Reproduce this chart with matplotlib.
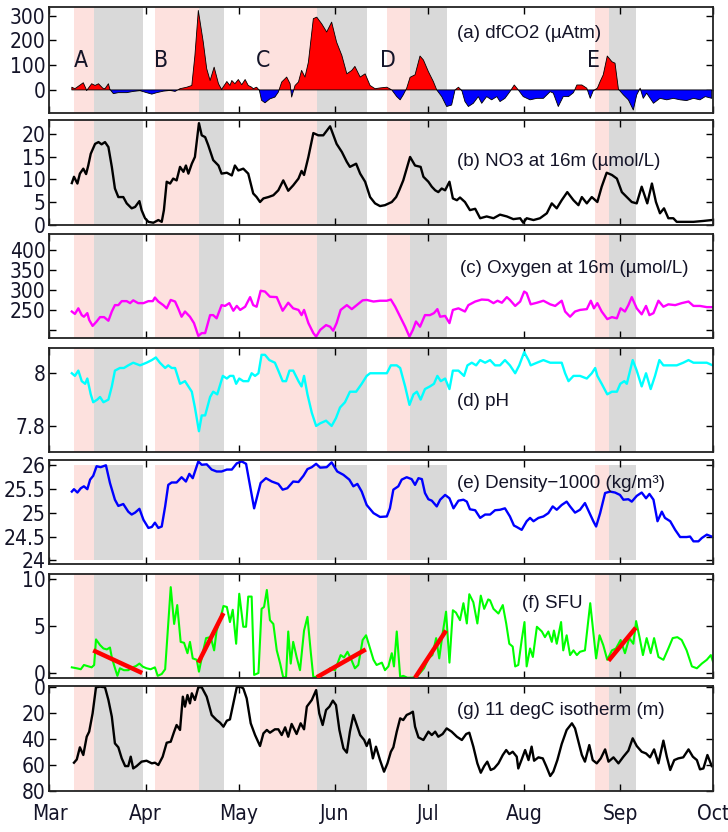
import matplotlib
matplotlib.use('Agg')
import matplotlib.pyplot as plt
from matplotlib import font_manager
import numpy as np

# ==========================================
# DATA (day since 1 March)
# ==========================================
months = ['Mar', 'Apr', 'May', 'Jun', 'Jul', 'Aug', 'Sep', 'Oct']
month_days = [0, 31, 61, 92, 122, 153, 184, 214]

pink_periods = [(7.9, 14.4), (34.0, 48.3), (67.9, 86.3), (109.0, 116.3), (176.0, 180.5)]
grey_periods = [(14.4, 30.3), (48.3, 56.3), (86.3, 102.3), (116.3, 128.3), (180.5, 189.2)]

event_labels = ['A', 'B', 'C', 'D', 'E']
event_days = [10.2, 36.0, 68.9, 109.2, 175.3]

# (a) dfCO2
co2_day = [7.2, 8.2, 10.9, 12.0, 13.6, 14.7, 15.8, 17.2, 17.9, 19.0, 19.5, 20.6, 22.2, 24.9, 27.0,
           29.2, 31.3, 33.0, 34.6, 36.7, 38.9, 40.5, 42.1, 44.3, 45.9, 46.9, 48.0, 49.6, 50.7, 51.8,
           53.1, 54.5, 55.5, 57.2, 58.2, 58.8, 59.8, 60.9, 62.0, 63.1, 64.1, 65.2, 65.7, 66.8, 67.7,
           68.4, 69.5, 71.1, 72.7, 73.8, 74.9, 76.5, 77.6, 78.1, 79.2, 80.3, 81.3, 82.4, 83.5, 85.1,
           86.2, 87.8, 89.4, 91.0, 92.6, 94.3, 95.9, 97.5, 98.5, 100.2, 101.8, 103.4, 105.0,
           106.6, 108.8, 110.4, 112.0, 113.1, 114.1, 115.2, 116.3, 117.9, 119.5, 120.6, 122.2, 123.8,
           124.9, 126.5, 128.1, 129.7, 130.8, 131.9, 133.0, 134.0, 135.1, 136.7, 138.3, 139.4, 141.0,
           142.6, 144.3, 145.3, 146.9, 148.5, 149.9, 151.2, 152.8, 155.0, 157.2, 159.3, 161.5, 162.5,
           164.1, 165.7, 167.4, 169.0, 170.1, 171.7, 173.3, 174.4, 175.4, 176.7, 177.6, 178.6, 179.9,
           181.4, 182.4, 183.5, 185.1, 186.7, 188.3, 189.4, 190.5, 191.5, 192.6, 194.8, 196.9, 199.1,
           201.2, 203.4, 205.5, 207.7, 209.8, 211.5, 213.6]
co2_val = [11, 5, 29, -2, 25, 18, 25, 7, 5, 25, 2, -15, -11, -11, -6,
           -3, -11, -17, -11, -5, -2, -6, 5, 11, 18, 139, 321, 193, 86, 38,
           92, 25, 2, 34, 18, 38, 25, 42, 21, 42, 18, 11, 5, 11, -2,
           -42, -52, -36, -29, -9, 32, 52, 25, -29, 18, 32, 79, 52, 112, 288,
           294, 267, 234, 274, 193, 139, 65, 79, 95, 52, 65, 18, 5,
           8, 11, 0, -27, -40, -20, 7, 51, 61, 137, 121, 74, 34,
           0, -27, -67, -61, 0, 11, -3, -47, -67, -54, -27, -54, -27,
           -40, -27, -47, -34, -7, 20, 0, -27, -40, -34, -34, -7, -13,
           -67, -27, -27, -11, 20, 20, 7, -34, -3, 7, 34, 61, 137,
           114, 108, 3, -20, -40, -81, -20, 7, -34, -13, -54, -34, -40,
           -34, -40, -43, -34, -40, -27, -34]

# (b) NO3 at 16 m
no3_day = [7.2, 7.9, 9.0, 9.8, 10.9, 11.8, 12.5, 13.3, 14.7, 15.8, 16.8, 17.9, 19.0, 20.1, 21.1,
           22.2, 23.8, 24.9, 26.5, 27.6, 29.0, 29.7, 30.8, 31.9, 33.5, 35.1, 36.2, 36.9, 37.8, 38.9,
           39.9, 41.0, 42.1, 43.2, 44.0, 44.8, 45.9, 46.9, 48.2, 49.1, 50.2, 51.2, 52.8, 54.5, 55.5,
           57.2, 58.8, 59.8, 60.9, 62.5, 64.1, 65.7, 66.8, 67.9, 69.0, 70.6, 72.2, 73.8, 75.4, 77.0,
           78.6, 80.3, 81.3, 82.1, 83.5, 85.1, 86.7, 88.3, 90.5, 92.6, 94.3, 95.9, 96.9, 98.9, 100.2,
           101.8, 103.4, 105.0, 106.6, 108.2, 110.4, 111.8, 112.8, 114.1, 116.3, 117.9, 119.7, 120.6,
           122.2, 123.3, 124.4, 125.4, 126.5, 127.6, 129.0, 130.1, 131.4, 132.4, 134.0, 135.6, 137.3,
           138.9, 141.0, 143.2, 145.3, 147.5, 149.6, 151.8, 152.8, 153.9, 156.1, 158.2, 160.4, 162.0,
           163.6, 165.2, 167.0, 169.0, 170.6, 171.7, 173.3, 174.9, 176.7, 178.1, 179.7, 181.4, 183.0,
           184.6, 186.2, 187.8, 189.4, 191.0, 192.1, 192.8, 194.3, 195.6, 196.9, 198.2, 199.6, 201.2,
           202.3, 204.4, 207.7, 210.9, 213.6]
no3_val = [9.2, 10.6, 9.1, 11.3, 12.4, 11.2, 13.1, 15.7, 17.9, 18.3, 17.8, 18.3, 17.2, 12.8, 8.0,
           6.1, 6.1, 4.7, 3.6, 3.9, 5.2, 3.2, 1.4, 0.6, 0.4, 1.0, 0.6, 3.2, 9.5, 9.1,
           10.2, 9.8, 12.8, 11.7, 13.1, 11.3, 13.5, 15.0, 22.5, 19.8, 19.4, 17.6, 14.3, 13.1, 11.3,
           11.5, 10.9, 13.1, 12.0, 12.4, 11.3, 6.9, 6.1, 5.0, 5.8, 6.1, 6.5, 7.6, 9.8, 7.5,
           8.7, 10.2, 11.9, 11.0, 15.0, 20.3, 19.8, 19.8, 21.8, 17.9, 16.1, 13.9, 12.8, 13.5, 11.3,
           9.5, 6.1, 4.7, 4.1, 4.3, 5.0, 6.1, 7.6, 9.8, 15.0, 13.1, 12.8, 10.6,
           9.5, 8.4, 7.6, 7.2, 8.0, 7.6, 9.5, 5.8, 5.4, 6.0, 5.0, 3.2, 3.5,
           1.4, 1.8, 1.4, 2.2, 1.8, 1.2, 1.4, 0.4, 1.4, 1.0, 1.4, 2.5, 4.7,
           3.6, 5.4, 7.2, 5.4, 4.3, 6.1, 4.7, 6.1, 5.0, 8.4, 11.5, 11.0, 10.2,
           7.2, 6.1, 5.0, 4.7, 8.4, 6.1, 4.7, 9.1, 5.0, 2.5, 3.6, 1.4, 1.4,
           0.6, 0.6, 0.6, 0.8, 1.0]

# (c) Oxygen at 16 m
oxy_day = [7.2, 8.2, 9.3, 10.4, 11.1, 12.2, 12.8, 13.9, 15.2, 16.3, 17.6, 19.0, 20.1, 21.1, 22.2,
           23.3, 24.9, 26.0, 27.0, 28.6, 30.3, 31.9, 33.3, 34.0, 35.1, 36.7, 37.8, 39.1, 40.5, 41.5,
           42.6, 43.7, 45.3, 46.6, 48.0, 49.1, 50.2, 51.8, 52.8, 53.9, 55.5, 56.6, 58.0, 59.3, 60.4,
           61.5, 63.1, 64.7, 65.7, 66.8, 68.1, 69.5, 71.1, 73.3, 75.2, 77.0, 78.6, 80.3, 81.3, 82.1,
           83.5, 85.1, 86.0, 87.3, 89.2, 90.5, 91.5, 92.6, 93.9, 95.9, 97.5, 99.1, 101.0, 102.3,
           104.5, 106.6, 108.8, 110.1, 111.5, 113.1, 114.7, 116.1, 117.2, 118.2, 119.5, 121.1, 122.7,
           124.0, 125.1, 126.0, 127.6, 129.0, 130.1, 131.9, 134.0, 135.1, 137.3, 139.4, 141.5, 143.2,
           144.5, 145.9, 147.5, 148.5, 150.2, 151.8, 153.1, 153.9, 155.2, 157.2, 159.3, 161.5, 163.1,
           165.2, 166.3, 167.9, 169.5, 171.1, 173.3, 174.6, 175.6, 176.7, 178.1, 179.9, 181.4, 183.0,
           184.2, 185.6, 186.7, 187.8, 189.4, 191.0, 192.4, 193.5, 194.8, 196.4, 198.0, 199.6, 201.8,
           203.9, 206.1, 207.7, 209.8, 212.0, 213.9]
oxy_val = [246, 240, 254, 237, 233, 242, 225, 210, 221, 232, 232, 223, 246, 262, 262,
           272, 272, 267, 274, 267, 267, 272, 272, 281, 271, 262, 254, 275, 271, 254,
           233, 246, 233, 217, 185, 192, 192, 237, 237, 229, 262, 260, 267, 248, 260,
           250, 258, 282, 262, 258, 298, 296, 283, 282, 248, 268, 254, 250, 237, 250,
           217, 192, 183, 200, 212, 208, 198, 217, 250, 262, 252, 262, 274, 275,
           271, 273, 273, 276, 258, 233, 208, 183, 200, 221, 208, 237, 237,
           242, 252, 233, 235, 217, 250, 254, 246, 262, 271, 276, 275, 267,
           273, 268, 282, 275, 260, 271, 296, 292, 264, 268, 273, 264, 260,
           273, 246, 233, 246, 250, 252, 273, 254, 267, 246, 227, 232, 229,
           254, 246, 262, 282, 254, 239, 260, 237, 242, 273, 258, 264, 262,
           267, 271, 260, 260, 257, 257]

# (d) pH
ph_day = [7.2, 8.2, 9.3, 10.4, 11.5, 12.2, 13.3, 14.1, 15.4, 16.3, 17.4, 19.0, 20.1, 21.1, 22.7,
          24.0, 25.4, 27.0, 29.2, 31.3, 33.0, 34.3, 35.6, 37.3, 38.3, 39.4, 40.5, 42.1, 43.7, 45.9,
          46.9, 48.2, 49.1, 50.2, 51.8, 52.8, 54.1, 55.9, 57.2, 58.2, 59.3, 60.2, 61.2, 62.5, 64.1,
          65.2, 66.3, 67.4, 68.4, 69.5, 70.9, 72.7, 73.8, 75.2, 76.3, 77.4, 78.6, 80.3, 81.3, 82.1,
          83.2, 84.6, 86.0, 87.3, 89.2, 91.0, 92.4, 93.7, 95.3, 96.9, 98.9, 100.7, 102.3,
          103.4, 105.5, 108.8, 110.1, 112.0, 113.1, 114.7, 116.1, 117.4, 118.5, 119.7, 121.1, 122.7,
          124.0, 125.1, 126.2, 127.6, 129.0, 130.1, 131.9, 133.7, 134.8, 136.2, 137.6, 138.9, 140.5,
          142.1, 143.7, 145.3, 146.9, 148.5, 150.2, 151.5, 153.1, 154.5, 155.2, 157.2, 159.3, 161.5,
          163.6, 165.2, 166.3, 167.4, 169.0, 171.1, 173.3, 174.9, 176.0, 176.7, 178.1, 179.9, 181.4,
          183.0, 184.1, 185.4, 186.2, 188.1, 189.4, 191.0, 192.4, 193.9, 195.3, 196.7, 198.0, 200.2,
          202.3, 204.4, 206.1, 207.7, 209.8, 212.0, 213.9]
ph_val = [8.00, 7.99, 8.01, 7.97, 7.96, 7.98, 7.92, 7.89, 7.90, 7.91, 7.89, 7.90, 7.95, 8.01, 8.02,
          8.02, 8.03, 8.04, 8.03, 8.04, 8.05, 8.06, 8.04, 8.02, 8.03, 8.02, 8.02, 7.96, 7.97, 7.93,
          7.87, 7.78, 7.84, 7.84, 7.91, 7.93, 7.92, 7.99, 7.98, 7.99, 7.99, 7.96, 7.98, 7.97, 7.97,
          8.00, 7.99, 8.00, 8.07, 8.07, 8.05, 8.04, 8.01, 7.97, 7.97, 8.01, 8.01, 7.97, 7.95, 7.99,
          7.92, 7.85, 7.80, 7.81, 7.82, 7.80, 7.83, 7.87, 7.89, 7.93, 7.93, 7.96, 7.99,
          8.00, 8.00, 8.00, 8.03, 8.03, 8.02, 7.95, 7.88, 7.92, 7.93, 7.90, 7.94, 7.95,
          7.96, 7.99, 7.97, 7.98, 7.94, 8.01, 8.01, 7.99, 8.03, 8.04, 8.03, 8.05, 8.04,
          8.05, 8.03, 8.03, 8.05, 8.03, 8.00, 8.03, 8.08, 8.05, 8.03, 8.04, 8.05, 8.04,
          8.04, 8.04, 8.00, 7.97, 7.99, 7.99, 7.98, 8.00, 8.02, 7.99, 7.96, 7.92, 7.93,
          7.93, 7.96, 7.97, 7.96, 8.05, 8.01, 7.95, 8.00, 7.94, 7.99, 8.05, 8.03, 8.03,
          8.03, 8.04, 8.05, 8.04, 8.04, 8.04, 8.03]

# (e) Density - 1000
dens_day = [7.2, 7.9, 9.0, 10.1, 11.1, 12.2, 13.1, 14.1, 15.2, 16.5, 18.2, 19.5, 21.1, 22.2, 23.8,
            25.4, 26.5, 27.6, 29.0, 30.3, 31.9, 33.0, 34.0, 35.1, 36.2, 37.3, 38.3, 39.4, 41.0, 42.6,
            44.0, 45.1, 46.2, 48.0, 49.1, 50.7, 52.3, 53.9, 55.5, 57.2, 58.8, 60.4, 62.0, 63.4, 64.7,
            66.0, 67.0, 68.1, 69.8, 71.7, 73.8, 75.2, 76.7, 78.6, 80.3, 81.9, 83.2, 84.6, 86.0, 87.3,
            89.4, 91.0, 92.8, 94.8, 96.7, 98.0, 99.3, 100.7, 102.3, 104.5, 106.6, 108.8, 109.8,
            110.9, 112.5, 113.6, 115.2, 116.8, 117.9, 119.0, 120.1, 121.1, 122.2, 123.3, 124.9, 126.0,
            127.6, 129.0, 130.3, 131.9, 133.5, 134.6, 135.6, 137.3, 138.9, 140.5, 142.1, 143.7, 145.3,
            146.9, 148.5, 149.8, 150.7, 152.3, 153.9, 155.0, 156.1, 157.7, 159.3, 160.9, 162.3, 163.6,
            165.2, 166.8, 167.9, 169.5, 171.1, 172.7, 174.4, 175.4, 176.3, 177.6, 179.2, 180.8, 182.4,
            184.0, 185.1, 186.7, 187.8, 189.4, 191.0, 192.4, 193.5, 194.8, 196.1, 197.5, 198.5, 200.2,
            201.8, 203.4, 205.5, 206.6, 207.7, 209.3, 210.4, 212.0, 213.6]
dens_val = [25.44, 25.49, 25.42, 25.51, 25.55, 25.49, 25.69, 25.77, 25.97, 25.95, 25.99, 25.62, 25.27, 25.14, 25.18,
            25.02, 24.96, 25.00, 25.08, 24.85, 24.68, 24.70, 24.79, 24.68, 24.71, 25.13, 25.58, 25.63, 25.63, 25.74,
            25.65, 25.81, 25.72, 26.07, 26.00, 26.01, 25.90, 25.86, 25.86, 25.90, 25.90, 26.03, 26.07, 26.02, 25.55,
            25.09, 25.34, 25.62, 25.72, 25.65, 25.60, 25.48, 25.51, 25.65, 25.64, 25.77, 25.91, 25.95, 26.02, 25.94,
            25.95, 26.05, 25.86, 25.79, 25.69, 25.55, 25.60, 25.44, 25.16, 24.99, 24.91, 24.92, 25.09,
            25.48, 25.55, 25.69, 25.74, 25.70, 25.58, 25.72, 25.70, 25.41, 25.28, 25.25, 25.13, 25.27,
            25.37, 25.30, 25.09, 25.25, 25.27, 25.23, 25.07, 25.05, 24.89, 24.96, 24.96, 25.05, 25.06,
            25.09, 24.92, 24.73, 24.70, 24.64, 24.82, 24.89, 24.82, 24.89, 24.92, 24.99, 25.13, 25.06,
            25.16, 25.23, 25.13, 25.00, 25.06, 25.20, 24.96, 24.82, 24.71, 24.99, 25.41, 25.44, 25.42,
            25.37, 25.27, 25.28, 25.23, 25.35, 25.42, 25.30, 25.39, 25.27, 24.82, 25.02, 24.89, 24.82,
            24.64, 24.49, 24.49, 24.50, 24.40, 24.40, 24.47, 24.54, 24.50]

# (f) SFU
sfu_day = [7.2, 8.8, 10.1, 11.1, 12.2, 13.6, 14.4, 15.0, 16.3, 17.4, 18.5, 19.5, 20.1, 20.8, 21.9,
           22.7, 24.0, 25.4, 26.8, 27.9, 29.0, 30.1, 31.3, 32.6, 34.0, 34.9, 36.2, 37.3, 38.0, 39.1,
           40.2, 41.2, 42.3, 43.4, 44.5, 45.3, 46.2, 47.5, 48.2, 49.4, 50.5, 52.0, 53.1, 53.9, 55.0,
           56.1, 57.2, 58.2, 59.1, 60.2, 61.2, 62.5, 63.4, 64.1, 65.2, 66.0, 67.4, 68.4, 69.2, 70.1,
           71.1, 72.2, 73.3, 74.4, 75.4, 76.3, 77.0, 77.8, 78.6, 79.7, 80.8, 82.1, 83.2, 84.3, 85.1,
           86.2, 87.3, 88.9, 90.5, 92.1, 93.9, 95.0, 96.1, 97.5, 98.5, 99.6, 101.0, 102.1, 103.2,
           104.5, 105.5, 107.2, 108.2, 109.3, 110.4, 111.1, 112.0, 113.1, 114.1, 115.4, 116.8, 118.2,
           119.5, 120.8, 122.2, 123.5, 124.7, 125.7, 126.8, 127.9, 129.0, 130.1, 131.1, 132.4, 133.5,
           134.6, 135.4, 136.7, 138.0, 139.1, 140.2, 141.5, 142.1, 143.2, 144.8, 146.2, 147.3, 148.3,
           149.4, 150.2, 151.2, 152.3, 153.2, 153.9, 155.0, 155.9, 157.2, 158.8, 159.8, 160.9, 162.0,
           162.7, 163.6, 165.0, 165.7, 166.8, 167.9, 169.0, 170.1, 171.1, 172.7, 174.4, 175.2, 176.3,
           177.4, 178.6, 179.9, 181.4, 182.7, 184.2, 185.6, 187.0, 188.3, 189.2, 190.3, 191.4, 192.6,
           193.9, 195.0, 196.4, 198.0, 199.6, 201.0, 202.5, 203.9, 205.5, 207.2, 208.8, 210.4, 212.0,
           213.3, 214.0]
sfu_val = [0.6, 0.5, 0.4, 0.85, 0.74, 0.6, 0.85, 3.56, 2.96, 2.6, 2.5, 2.7, 1.65, 0.85, -0.3,
           0.5, 0.3, 0.3, 0.6, 0.74, 1.0, 0.67, 0.5, 0.4, 0.6, -0.3, -0.1, 0.4, 3.8, 9.1,
           5.2, 7.2, 3.3, 3.2, 2.1, 3.3, 1.55, 1.4, 0.14, 2.1, 3.7, 3.8, 2.4, 4.5, 5.6,
           7.1, 7.0, 5.4, 6.7, 3.1, 8.4, 4.9, 4.9, 8.1, 8.1, -0.2, 0.0, 6.8, 7.0, 8.8,
           5.6, 5.2, 2.4, 1.0, -0.5, -0.4, 4.4, 1.0, 3.3, 1.7, 0.3, 4.5, 5.95, 2.1, -0.45,
           -0.4, -0.3, 0.0, 0.5, 0.3, 1.9, 1.65, 2.25, 1.3, 0.5, 0.85, 3.5, 4.0, 2.8,
           1.4, 0.85, 1.1, 0.3, 0.7, 2.1, 0.7, 4.4, -0.4, -0.3, -0.5, -0.5, -0.45,
           0.0, 0.5, 1.55, 1.9, 3.7, 1.55, 4.2, 6.5, 1.1, 6.65, 6.4, 5.6, 7.4,
           5.25, 8.35, 7.5, 5.25, 8.2, 6.8, 7.8, 7.7, 6.8, 6.3, 7.2, 5.25, 3.1,
           2.8, 0.7, 0.85, 3.5, 5.4, 0.7, 2.6, 1.7, 4.9, 4.4, 3.8, 4.4, 3.3,
           4.5, 3.1, 5.4, 2.4, 4.0, 1.9, 2.4, 1.9, 2.25, 2.4, 7.4, 4.9, 1.55,
           4.0, 2.96, 1.4, 2.4, 2.6, 3.5, 2.1, 3.7, 3.1, 5.5, 3.8, 1.9, 3.7,
           2.1, 3.7, 1.7, 1.4, 2.6, 3.7, 3.8, 3.5, 2.4, 0.7, 0.5, 1.0, 1.4,
           1.9, 1.2]

# linear trends over the grey periods
trend_day = [(14.1, 29.9), (48.0, 56.1), (86.2, 102.0), (117.9, 127.9), (180.3, 189.1)]
trend_val = [(2.4, 0.0), (1.1, 6.35), (-0.45, 2.5), (-0.5, 4.5), (1.3, 4.8)]

# (g) 11 degC isotherm depth
iso_day = [7.9, 8.8, 9.8, 10.9, 12.0, 12.8, 13.9, 15.0, 16.3, 17.9, 19.0, 20.1, 21.1, 22.2, 23.3,
           24.4, 25.4, 26.2, 27.0, 28.1, 29.7, 31.3, 33.0, 34.0, 35.1, 36.5, 37.8, 39.1, 40.2, 41.0,
           42.1, 43.0, 43.7, 44.5, 45.3, 45.9, 46.9, 48.0, 49.1, 50.7, 52.3, 53.9, 55.0, 56.1, 57.2,
           58.2, 59.3, 60.4, 61.5, 62.5, 63.6, 64.9, 66.3, 67.9, 69.0, 70.1, 71.1, 72.7, 73.8, 74.9,
           76.0, 77.0, 78.1, 79.7, 81.0, 82.1, 83.0, 84.6, 86.0, 87.0, 88.1, 89.2, 90.3, 91.4, 92.4,
           93.5, 94.8, 95.9, 96.9, 98.0, 99.1, 100.2, 101.5, 102.3, 103.2, 104.3, 105.3, 106.6, 107.9,
           109.0, 110.1, 110.9, 112.0, 113.1, 114.1, 115.2, 116.3, 117.2, 117.9, 119.0, 120.6, 122.2,
           123.3, 124.4, 125.4, 126.8, 128.1, 129.7, 131.4, 133.0, 134.4, 135.4, 136.7, 138.0, 139.1,
           140.2, 141.2, 142.3, 143.4, 144.8, 146.2, 147.3, 148.3, 149.4, 150.7, 151.2, 152.3, 153.4,
           154.5, 155.5, 156.3, 157.7, 159.1, 160.2, 161.5, 162.5, 163.8, 165.2, 166.8, 168.5, 169.5,
           170.6, 171.7, 172.7, 174.1, 175.2, 176.5, 177.8, 179.2, 180.3, 181.9, 183.5, 185.1, 186.7,
           188.1, 189.4, 191.0, 192.4, 193.7, 195.0, 196.4, 198.0, 199.1, 200.2, 201.5, 202.8, 204.4,
           206.1, 207.5, 208.8, 209.8, 210.9, 212.2, 213.6]
iso_val = [58.3, 55.8, 46.5, 52.4, 38.4, 34.5, 20.5, 0.5, 0.0, 0.5, 10.2, 23.0, 43.5, 46.5, 55.0,
           60.9, 60.9, 53.7, 62.7, 60.9, 57.5, 56.8, 58.8, 58.3, 60.1, 53.7, 43.0, 42.2, 34.5, 29.4,
           33.2, 7.7, 15.3, 6.4, 12.8, 5.1, 10.2, 0.5, 0.5, 7.7, 21.7, 25.6, 27.6, 30.7, 26.1,
           25.1, 12.8, 0.5, 0.0, 1.3, 9.0, 28.1, 37.1, 45.5, 35.8, 33.2, 35.3, 32.7, 32.7, 37.1,
           31.2, 38.4, 28.6, 36.3, 28.1, 32.7, 15.3, 10.2, 2.6, 20.5, 29.4, 17.9, 15.3, 10.7, 14.1,
           33.2, 47.3, 50.6, 34.5, 21.7, 29.4, 37.1, 40.9, 45.5, 40.4, 55.0, 46.0, 56.3, 65.2,
           58.8, 49.9, 46.5, 34.5, 24.3, 25.6, 21.7, 20.5, 19.2, 30.7, 38.9, 40.9, 34.5,
           37.1, 34.5, 38.4, 36.3, 32.0, 34.5, 38.4, 40.9, 36.3, 35.3, 46.0, 58.8, 66.0,
           60.9, 57.5, 63.9, 62.7, 58.8, 52.4, 48.6, 51.7, 49.9, 53.7, 62.7, 55.8, 48.6,
           56.3, 46.0, 56.8, 54.2, 55.0, 60.9, 68.5, 65.2, 56.3, 44.0, 33.2, 28.1, 32.0,
           42.2, 52.4, 57.5, 44.8, 56.3, 58.8, 55.0, 48.1, 57.5, 54.2, 58.8, 53.7, 49.1,
           39.6, 45.5, 49.9, 51.2, 54.2, 48.1, 58.8, 41.4, 53.7, 63.9, 56.3, 55.0, 54.2,
           48.1, 53.7, 56.3, 63.4, 62.7, 52.4, 60.9]

# ==========================================
# PLOTTING LOGIC
# ==========================================
PINK = '#fde1de'
GREY = '#d9d9d9'
TXT = '#141428'

# pick the narrowest sans available for the ticks
installed = font_manager.fontManager.ttflist
names = {f.name for f in installed}
tick_stretch = 'normal'
if 'Liberation Sans Narrow' in names:
    tick_family, tick_size = ['Liberation Sans Narrow', 'DejaVu Sans'], 17
elif any(f.name == 'DejaVu Sans' and f.stretch in ('condensed', 'semi-condensed', 500) for f in installed):
    tick_family, tick_size, tick_stretch = ['DejaVu Sans'], 15, 'condensed'
else:
    tick_family, tick_size = ['Liberation Sans', 'DejaVu Sans'], 14.5

plt.rcParams['font.family'] = tick_family
plt.rcParams['font.stretch'] = tick_stretch
plt.rcParams['axes.linewidth'] = 1.3
plt.rcParams['axes.edgecolor'] = '#222222'

fig = plt.figure(figsize=(7.28, 8.32), dpi=100)

# panel top / bottom in pixels
panel_px = [(7, 112.7), (120, 225), (234, 338.3), (347.7, 452.3),
            (460, 564.3), (574.3, 678.3), (686, 791)]
axes = []
for top, bot in panel_px:
    axes.append(fig.add_axes([49.5 / 728, 1 - bot / 832, 663.5 / 728, (bot - top) / 832]))


def shade(ax, y0=None, y1=None):
    for spans, col in ((pink_periods, PINK), (grey_periods, GREY)):
        for a, b in spans:
            if y0 is None:
                ax.axvspan(a, b, color=col, lw=0, zorder=0)
            else:
                ax.fill_between([a, b], y0, y1, color=col, lw=0, zorder=0)


label_font = ['Liberation Sans', 'DejaVu Sans']

def panel_label(ax, s, x, y):
    ax.text(x, y, s, transform=ax.transAxes, ha='left', va='center',
            fontsize=13.5, color=TXT, family=label_font, fontstretch='normal', zorder=5)


# (a) dfCO2
ax = axes[0]
shade(ax)
c = np.array(co2_val, dtype=float)
ax.fill_between(co2_day, c, 0, where=c >= 0, interpolate=True, facecolor='#ff0000',
                edgecolor='black', lw=0.6, zorder=2)
ax.fill_between(co2_day, c, 0, where=c <= 0, interpolate=True, facecolor='#0000ff',
                edgecolor='black', lw=0.6, zorder=2)
ax.set_ylim(-92, 335)
ax.set_yticks([0, 100, 200, 300])
for lab, d in zip(event_labels, event_days):
    ax.text(d, 120, lab, ha='center', va='center', fontsize=16.5, color=TXT,
            family=tick_family, fontstretch=tick_stretch)
panel_label(ax, '(a) dfCO2 (\u00b5Atm)', 0.614, 0.754)

# (b) NO3
ax = axes[1]
shade(ax)
ax.plot(no3_day, no3_val, color='black', lw=1.7)
ax.set_ylim(-0.1, 23.2)
ax.set_yticks([0, 5, 10, 15, 20])
panel_label(ax, '(b) NO3 at 16m (\u00b5mol/L)', 0.614, 0.603)

# (c) Oxygen
ax = axes[2]
shade(ax)
ax.plot(oxy_day, oxy_val, color='#ff00ff', lw=1.7)
ax.set_ylim(179, 440)
ax.set_yticks([200, 250, 300, 350, 400])
ax.set_yticklabels(['', '250', '300', '350', '400'])
panel_label(ax, '(c) Oxygen at 16m (\u00b5mol/L)', 0.619, 0.674)

# (d) pH
ax = axes[3]
shade(ax)
ax.plot(ph_day, ph_val, color='#00ffff', lw=1.7)
ax.set_ylim(7.70, 8.097)
ax.set_yticks([7.8, 8.0])
ax.set_yticklabels(['7.8', '8'])
panel_label(ax, '(d) pH', 0.614, 0.484)

# (e) Density
ax = axes[4]
shade(ax, 24, 26)
ax.plot(dens_day, dens_val, color='#0000ff', lw=1.7)
ax.set_ylim(23.92, 26.10)
ax.set_yticks([24, 24.5, 25, 25.5, 26])
ax.set_yticklabels(['24', '24.5', '25', '25.5', '26'])
panel_label(ax, '(e) Density\u22121000 (kg/m\u00b3)', 0.614, 0.777)

# (f) SFU
ax = axes[5]
shade(ax)
ax.plot(sfu_day, sfu_val, color='#00ff00', lw=1.5)
for (d0, d1), (v0, v1) in zip(trend_day, trend_val):
    ax.plot([d0, d1], [v0, v1], color='#ff0000', lw=3.2, solid_capstyle='butt', zorder=4)
ax.set_ylim(-0.56, 10.46)
ax.set_yticks([0, 5, 10])
panel_label(ax, '(f) SFU', 0.712, 0.724)

# (g) 11 degC isotherm
ax = axes[6]
shade(ax)
ax.plot(iso_day, iso_val, color='black', lw=1.7)
ax.set_ylim(80, -0.5)
ax.set_yticks([0, 20, 40, 60, 80])
panel_label(ax, '(g) 11 degC isotherm (m)', 0.614, 0.771)

for i, ax in enumerate(axes):
    ax.set_xlim(0, 214)
    ax.set_xticks(month_days)
    ax.tick_params(direction='in', top=True, right=True, length=5, width=1,
                   labelsize=tick_size, labelcolor=TXT, pad=3)
    if i < len(axes) - 1:
        ax.tick_params(labelbottom=False)
    else:
        ax.set_xticklabels(months)
        ax.tick_params(axis='x', pad=9)

fig.savefig('out.png', dpi=100)
